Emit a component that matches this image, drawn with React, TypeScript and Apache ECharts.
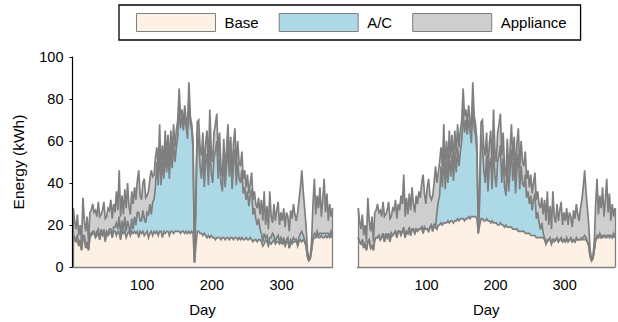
import React, { useEffect, useRef } from 'react';
import * as echarts from 'echarts';

// Day positions (every other day of the ~373-day record)
const days: number[] = Array.from({ length: 187 }, (_, i) => 1 + 2 * i);
const xTickLabels = [100, 200, 300];
const seriesNames = ['Base', 'A/C', 'Appliance'];

// ---- Left panel ----
const leftBase = [
  15,13,12,14,10,12,8,13,14,9,11,8,14,15,16,
  16,14,15,17,13,17,15,16,12,17,15,16,17,14,17,
  17,15,17,16,13,17,16,17,14,16,17,15,17,16,17,
  16,17,14,17,16,17,15,16,17,14,16,17,15,17,16,
  17,15,17,17,14,17,16,17,17,15,17,17,16,17,17,
  17,17,16,17,17,16,17,16,17,16,17,16,2,10,17,
  17,16,16,15,16,15,14,15,14,15,14,14,13,14,14,
  14,13,14,14,13,14,14,13,14,14,13,14,14,13,14,
  13,14,13,13,14,13,13,14,13,12,13,13,12,13,13,
  12,10,11,13,12,10,12,11,12,13,11,12,12,11,12,
  11,12,10,12,12,9,12,11,12,12,13,10,12,13,12,
  13,12,10,5,3,4,8,13,14,14,15,14,14,15,14,
  14,15,14,15,14,15,14,
];
const leftAC = [
  1,0,2,1,0,1,0,2,1,0,1,0,2,1,1,
  1,0,2,1,0,1,0,2,1,0,1,2,1,0,2,
  2,6,1,8,2,5,1,7,3,6,2,1,6,2,7,
  4,9,12,5,6,10,8,5,9,11,14,8,16,15,22,
  33,24,41,22,36,25,40,28,38,27,40,30,43,33,40,
  45,60,50,55,48,56,50,45,65,52,48,40,0,18,48,
  42,32,26,40,22,35,40,24,47,30,26,38,42,46,28,
  40,27,22,38,25,34,44,30,40,23,36,42,25,37,28,
  27,32,22,25,18,23,16,20,24,13,15,10,8,10,5,
  4,2,5,1,3,1,2,3,4,2,1,2,3,1,2,
  1,2,0,1,2,0,1,1,2,1,0,1,2,3,5,
  2,1,0,0,0,0,0,1,2,1,2,1,2,1,2,
  2,1,2,1,1,2,1,
];
const leftAppliance = [
  12,9,4,10,5,7,4,18,7,8,12,4,10,11,13,
  9,13,7,13,11,7,12,13,10,7,12,9,14,9,11,
  7,15,9,22,9,12,8,13,11,18,10,9,13,12,14,
  12,15,20,12,10,13,19,12,8,11,12,21,12,12,14,
  7,8,10,6,8,6,9,7,8,6,8,7,9,7,8,
  8,8,6,3,3,5,3,5,6,4,3,4,1,7,4,
  11,9,11,9,8,9,11,8,14,11,10,12,13,13,11,
  10,7,7,9,7,8,10,8,8,7,10,10,8,10,8,
  8,9,7,8,6,8,6,6,8,7,8,7,8,10,7,
  16,10,20,6,14,7,22,10,5,15,10,13,16,8,12,
  10,14,9,13,10,8,14,11,16,12,9,15,18,22,29,
  21,15,10,3,1,1,4,16,26,10,17,13,22,8,16,
  26,10,19,6,15,7,13,
];

// ---- Right panel ----
const rightBase = [
  14,12,11,13,9,11,8,12,13,9,10,8,13,14,14,
  15,13,14,16,12,16,14,16,12,16,15,16,17,14,17,
  17,15,17,17,14,17,16,18,15,18,18,16,18,17,18,
  18,19,16,19,18,18,17,19,20,17,20,19,18,20,20,
  21,20,21,21,21,22,21,22,22,21,22,22,23,22,23,
  23,23,22,23,23,24,23,24,24,24,24,23,16,20,23,
  23,22,22,23,22,22,21,22,21,21,21,20,20,21,20,
  20,19,20,19,19,19,19,18,18,18,18,17,17,17,17,
  17,16,16,16,16,15,15,15,15,14,14,14,14,14,14,
  13,11,12,13,13,11,13,12,13,13,12,13,13,12,13,
  12,13,12,13,13,12,13,12,13,13,13,13,13,13,13,
  13,12,10,5,3,4,8,13,14,14,15,14,14,15,14,
  14,15,14,15,14,15,14,
];
const rightAC = [
  0,0,0,0,0,0,0,0,0,0,0,0,0,0,0,
  0,0,0,0,0,0,0,0,0,0,0,0,0,0,0,
  0,1,0,2,0,0,0,1,0,0,0,0,0,0,0,
  0,0,0,0,0,0,0,0,0,0,0,0,8,11,14,
  27,18,35,16,29,18,33,21,31,20,33,23,34,26,32,
  37,52,42,47,40,46,42,35,56,42,39,31,0,12,40,
  34,24,18,30,14,26,31,15,38,22,17,30,33,37,20,
  32,19,14,31,17,27,37,23,34,17,29,37,20,31,23,
  21,28,17,20,14,19,12,17,20,9,12,7,4,7,2,
  1,0,1,0,1,0,0,1,0,1,0,0,1,0,0,
  0,1,0,0,1,0,0,0,1,0,0,0,1,1,2,
  1,0,0,0,0,0,0,0,1,0,1,0,1,0,1,
  1,0,1,0,0,1,0,
];
const rightAppliance = [
  14,10,7,12,6,9,4,21,9,8,14,4,13,13,16,
  11,14,10,15,12,9,13,15,11,8,13,11,15,9,13,
  10,18,13,25,10,16,9,16,12,20,12,10,16,13,18,
  15,21,28,16,12,20,25,15,12,17,20,29,14,14,16,
  9,10,12,8,10,8,11,9,10,8,10,9,11,9,10,
  10,10,8,5,5,7,5,7,8,6,5,6,1,8,6,
  13,11,13,11,10,11,13,10,16,13,12,14,15,15,13,
  12,9,9,11,9,10,12,10,10,9,12,12,10,12,10,
  10,11,9,10,8,10,8,8,10,9,10,9,10,12,9,
  18,11,23,7,15,7,23,11,8,16,10,14,17,8,13,
  10,14,8,13,10,7,14,11,16,12,9,15,18,24,31,
  22,16,10,3,1,1,4,17,27,11,18,14,23,9,17,
  27,11,20,7,16,8,14,
];

const FONT = '"Liberation Sans", Arial, Helvetica, sans-serif';
const EDGE = '#7f7f7f';
const FILLS = ['#fdf0e5', '#add8e6', '#cecece'];
const LINE_W = 1.7;

// Builds the stacked layers (cumulative sums) and draws them back to front.
function panelSeries(panel: number, parts: number[][]) {
  const cumulative: number[][] = [];
  parts.forEach((vals, k) => {
    cumulative.push(vals.map((v, i) => v + (k > 0 ? cumulative[k - 1][i] : 0)));
  });
  const n = days.length - 1;
  const top = cumulative[cumulative.length - 1];
  const out: any[] = [];
  for (let k = parts.length - 1; k >= 0; k--) {
    out.push({
      type: 'line',
      name: seriesNames[k],
      xAxisIndex: panel,
      yAxisIndex: panel,
      data: days.map((d, i) => [d, cumulative[k][i]]),
      symbol: 'none',
      showSymbol: false,
      silent: true,
      lineStyle: { color: EDGE, width: LINE_W, join: 'miter' },
      areaStyle: { color: FILLS[k], opacity: 1, origin: 'start' },
      itemStyle: { color: FILLS[k] },
      emphasis: { disabled: true },
      z: 3,
      ...(k === 0
        ? {
            markLine: {
              silent: true,
              symbol: ['none', 'none'],
              label: { show: false },
              lineStyle: { color: EDGE, width: 1.3, type: 'solid' },
              data: [
                [{ coord: [days[0], 0] }, { coord: [days[0], top[0]] }],
                [{ coord: [days[n], 0] }, { coord: [days[n], top[n]] }],
              ],
            },
          }
        : {}),
    });
  }
  return out;
}

export default function App() {
  const ref = useRef<HTMLDivElement>(null);
  useEffect(() => {
    if (!ref.current) return;
    const chart = echarts.init(ref.current, null, { renderer: 'svg' });
    const xAxisFor = (i: number) => ({
      type: 'value',
      gridIndex: i,
      min: 0,
      max: 373,
      interval: 100,
      z: 10,
      axisLine: { show: true, lineStyle: { color: EDGE, width: 1.3 } },
      axisTick: { show: false },
      splitLine: { show: false },
      axisLabel: {
        formatter: (v: number) => (xTickLabels.includes(v) ? String(v) : ''),
        color: '#000',
        fontSize: 14.5,
        fontFamily: FONT,
        margin: 10,
      },
      name: 'Day',
      nameLocation: 'middle',
      nameGap: 35,
      nameTextStyle: { color: '#000', fontSize: 15, fontFamily: FONT },
    });
    chart.setOption({
      animation: false,
      backgroundColor: '#fff',
      textStyle: { fontFamily: FONT },
      legend: {
        left: 119,
        top: 5,
        orient: 'horizontal',
        itemWidth: 79,
        itemHeight: 18,
        itemGap: 20,
        padding: [8, 14, 8, 17],
        borderColor: '#000',
        borderWidth: 1.3,
        selectedMode: false,
        icon: 'rect',
        textStyle: { color: '#000', fontSize: 15, fontFamily: FONT, padding: [0, 0, 0, 4] },
        data: seriesNames.map((name, k) => ({
          name,
          icon: 'rect',
          itemStyle: { color: FILLS[k], borderColor: EDGE, borderWidth: 1 },
        })),
      },
      grid: [
        { left: 72.5, top: 57, width: 260, height: 213.5 },
        { left: 357.5, top: 57, width: 260, height: 213.5 },
      ],
      xAxis: [xAxisFor(0), xAxisFor(1)],
      yAxis: [
        {
          type: 'value',
          gridIndex: 0,
          min: 0,
          max: 100,
          interval: 20,
          z: 10,
          axisLine: { show: true, lineStyle: { color: '#000', width: 1.2 } },
          axisTick: { show: true, inside: false, length: 3, lineStyle: { color: '#000' } },
          splitLine: { show: false },
          axisLabel: { color: '#000', fontSize: 14.5, fontFamily: FONT, margin: 9 },
          name: 'Energy (kWh)',
          nameLocation: 'middle',
          nameGap: 46,
          nameTextStyle: { color: '#000', fontSize: 15.5, fontFamily: FONT },
        },
        { type: 'value', gridIndex: 1, min: 0, max: 100, show: false },
      ],
      series: [
        ...panelSeries(0, [leftBase, leftAC, leftAppliance]),
        ...panelSeries(1, [rightBase, rightAC, rightAppliance]),
      ],
    });
    return () => chart.dispose();
  }, []);
  return (
    <div
      ref={ref}
      style={{ position: 'absolute', left: 0, top: 0, width: 618, height: 322 }}
    />
  );
}
